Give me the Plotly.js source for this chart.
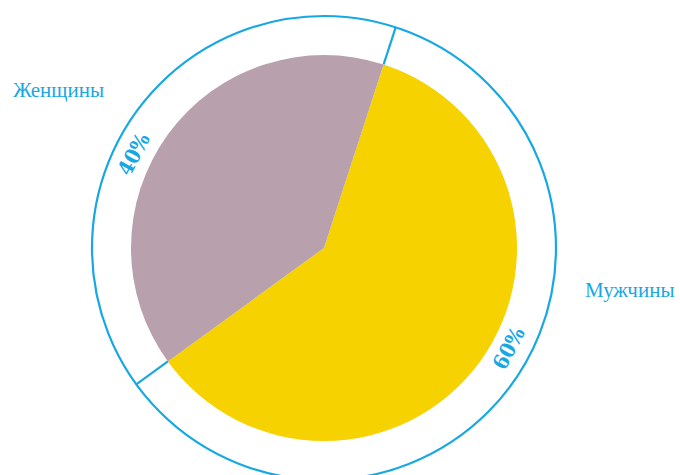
<!DOCTYPE html>
<html><head><meta charset="utf-8">
<script src="https://cdn.plot.ly/plotly-3.0.1.min.js"></script>
<style>html,body{margin:0;padding:0;background:#fff}</style>
</head><body>
<div id="chart" style="width:680px;height:475px"></div>
<script>
const categories = ["Мужчины", "Женщины"];
const values = [60, 40];
const colors = ["#f5d200", "#b9a0ad"];

const W = 680, H = 475;
const cx = 324, cy = 248, rPie = 193, rOuter = 232;
const startDeg = 18;
const blue = "#17a8e3";

const px = x => x / W;
const py = y => (H - y) / H;

// boundary angles from data
const total = values.reduce((a, b) => a + b, 0);
const bounds = [];
let acc = startDeg;
values.forEach(v => { bounds.push(acc); acc += v / total * 360; });

const shapes = [{
  type: "circle", xref: "paper", yref: "paper",
  x0: px(cx - rOuter), x1: px(cx + rOuter), y0: py(cy + rOuter), y1: py(cy - rOuter),
  line: {color: blue, width: 2.2}, fillcolor: "rgba(0,0,0,0)", layer: "below"
}];
bounds.forEach(a => {
  const t = a * Math.PI / 180;
  shapes.push({
    type: "line", xref: "paper", yref: "paper",
    x0: px(cx + rPie * Math.sin(t)), y0: py(cy - rPie * Math.cos(t)),
    x1: px(cx + rOuter * Math.sin(t)), y1: py(cy - rOuter * Math.cos(t)),
    line: {color: blue, width: 2.2}
  });
});

const labelPos = [[630, 290], [58, 90]];
const pctPos = [[508, 348], [133, 154]];
const annotations = [];
categories.forEach((c, i) => {
  annotations.push({
    text: c, xref: "paper", yref: "paper", x: px(labelPos[i][0]), y: py(labelPos[i][1]),
    showarrow: false, xanchor: "center", yanchor: "middle",
    font: {family: "Liberation Serif, serif", size: 21, color: blue}
  });
  annotations.push({
    text: "<b>" + Math.round(values[i] / total * 100) + "%</b>", xref: "paper", yref: "paper",
    x: px(pctPos[i][0]), y: py(pctPos[i][1]), showarrow: false,
    xanchor: "center", yanchor: "middle", textangle: -62,
    font: {family: "DejaVu Serif Condensed, Liberation Serif, serif", size: 21, color: blue}
  });
});

const trace = {
  type: "pie", labels: categories, values: values, sort: false,
  direction: "clockwise", rotation: startDeg,
  marker: {colors: colors, line: {width: 0}},
  textinfo: "none", hoverinfo: "none",
  domain: {x: [px(cx - rPie), px(cx + rPie)], y: [py(cy + rPie), py(cy - rPie)]}
};

Plotly.newPlot("chart", [trace], {
  width: W, height: H, margin: {l: 0, r: 0, t: 0, b: 0},
  showlegend: false, paper_bgcolor: "#fff",
  shapes: shapes, annotations: annotations
}, {staticPlot: true});
</script>
</body></html>
